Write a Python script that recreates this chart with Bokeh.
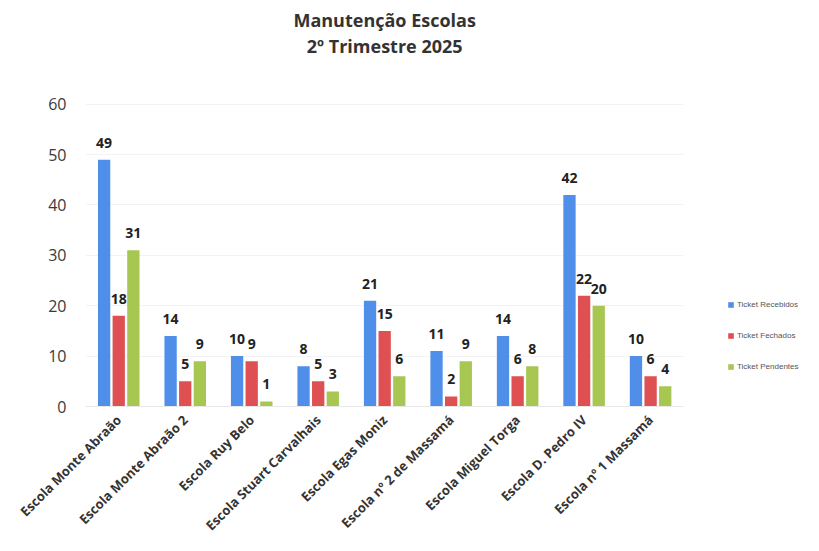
import math
from bokeh.plotting import figure
from bokeh.models import ColumnDataSource, Legend, LegendItem, Range1d, FixedTicker, Label
from bokeh.transform import dodge
from bokeh.core.properties import value
from bokeh.embed import file_html
from bokeh.resources import INLINE

schools = ["Escola Monte Abraão", "Escola Monte Abraão 2", "Escola Ruy Belo",
           "Escola Stuart Carvalhais", "Escola Egas Moniz", "Escola nº 2 de Massamá",
           "Escola Miguel Torga", "Escola D. Pedro IV", "Escola nº 1 Massamá"]
recebidos = [49, 14, 10, 8, 21, 11, 14, 42, 10]
fechados = [18, 5, 9, 5, 15, 2, 6, 22, 6]
pendentes = [31, 9, 1, 3, 6, 9, 8, 20, 4]
series_names = ["Ticket Recebidos", "Ticket Fechados", "Ticket Pendentes"]
y_ticks = [0, 10, 20, 30, 40, 50, 60]
title_lines = ["Manutenção Escolas", "2º Trimestre 2025"]

colors = ["#4F8FEA", "#DF5052", "#A8C652"]

idx = list(range(len(schools)))
src = ColumnDataSource(dict(idx=idx, rec=recebidos, fec=fechados, pen=pendentes,
                            rec_t=[str(v) for v in recebidos],
                            fec_t=[str(v) for v in fechados],
                            pen_t=[str(v) for v in pendentes]))

n = len(schools)
y_max = max(y_ticks)
# the plotting area reaches the top of the figure: the space above the 60 line
# holds the two title lines, the space right of the last school holds the legend
frame_bottom_px = 407.0
top_px = 104.0
y_end = y_max * frame_bottom_px / (frame_bottom_px - top_px)

p = figure(x_range=Range1d(-0.5, n - 0.5 + 1.83), y_range=Range1d(0, y_end),
           width=811, height=543, output_backend="svg", toolbar_location=None,
           min_border_left=85, min_border_right=6, min_border_bottom=131, min_border_top=0)
p.outline_line_color = None
p.background_fill_color = "white"

def px_to_y(py):
    return y_end * (frame_bottom_px - py) / frame_bottom_px

for line, py in zip(title_lines, [20, 46]):
    p.add_layout(Label(x=(n - 1) / 2, y=px_to_y(py), text=line,
                       text_align="center", text_baseline="middle",
                       text_font="Open Sans", text_font_size="18px", text_font_style="bold",
                       text_color="#333333"))

offsets = [-0.22, 0.0, 0.22]
cols = ["rec", "fec", "pen"]
renderers = []
for off, c, col in zip(offsets, cols, colors):
    r = p.vbar(x=dodge("idx", off), top=c, width=0.185, source=src,
               fill_color=col, line_color=None)
    renderers.append(r)
    p.text(x=dodge("idx", off), y=c, text=c + "_t", source=src,
           text_align="center", text_baseline="bottom", y_offset=-12,
           text_font=value("Open Sans"), text_font_size="14px", text_font_style="bold",
           text_color="#222222")

legend = Legend(items=[LegendItem(label=nm, renderers=[r]) for nm, r in zip(series_names, renderers)],
                location=(642, 35), orientation="vertical",
                glyph_width=7, glyph_height=7, label_height=9, spacing=22,
                label_text_font="Liberation Sans", label_text_font_size="8px",
                label_text_color="#555555", label_standoff=3,
                border_line_color=None, background_fill_alpha=0, padding=0, margin=0)
p.add_layout(legend, "center")

p.yaxis.ticker = y_ticks
p.yaxis.axis_line_color = None
p.yaxis.major_tick_line_color = None
p.yaxis.minor_tick_line_color = None
p.yaxis.major_label_text_font = "Open Sans"
p.yaxis.major_label_text_font_size = "16px"
p.yaxis.major_label_text_color = "#3a3a3a"
p.yaxis.major_label_standoff = 13

p.xaxis.ticker = FixedTicker(ticks=idx)
p.xaxis.major_label_overrides = {i: s for i, s in zip(idx, schools)}
p.xaxis.bounds = (-0.5, n - 0.5)
p.xaxis.axis_line_color = "#e8e8e8"
p.xaxis.major_tick_line_color = None
p.xaxis.minor_tick_line_color = None
p.xaxis.major_label_orientation = math.pi / 4
p.xaxis.major_label_text_font = "Open Sans"
p.xaxis.major_label_text_font_size = "13px"
p.xaxis.major_label_text_font_style = "bold"
p.xaxis.major_label_text_color = "#333333"
p.xaxis.major_label_standoff = 5

p.xgrid.grid_line_color = None
p.ygrid.grid_line_color = "#f3f3f3"
try:
    p.ygrid.cross_bounds = (-0.5, n - 0.5)
except Exception:
    pass

open("out.html", "w").write(file_html(p, INLINE))
